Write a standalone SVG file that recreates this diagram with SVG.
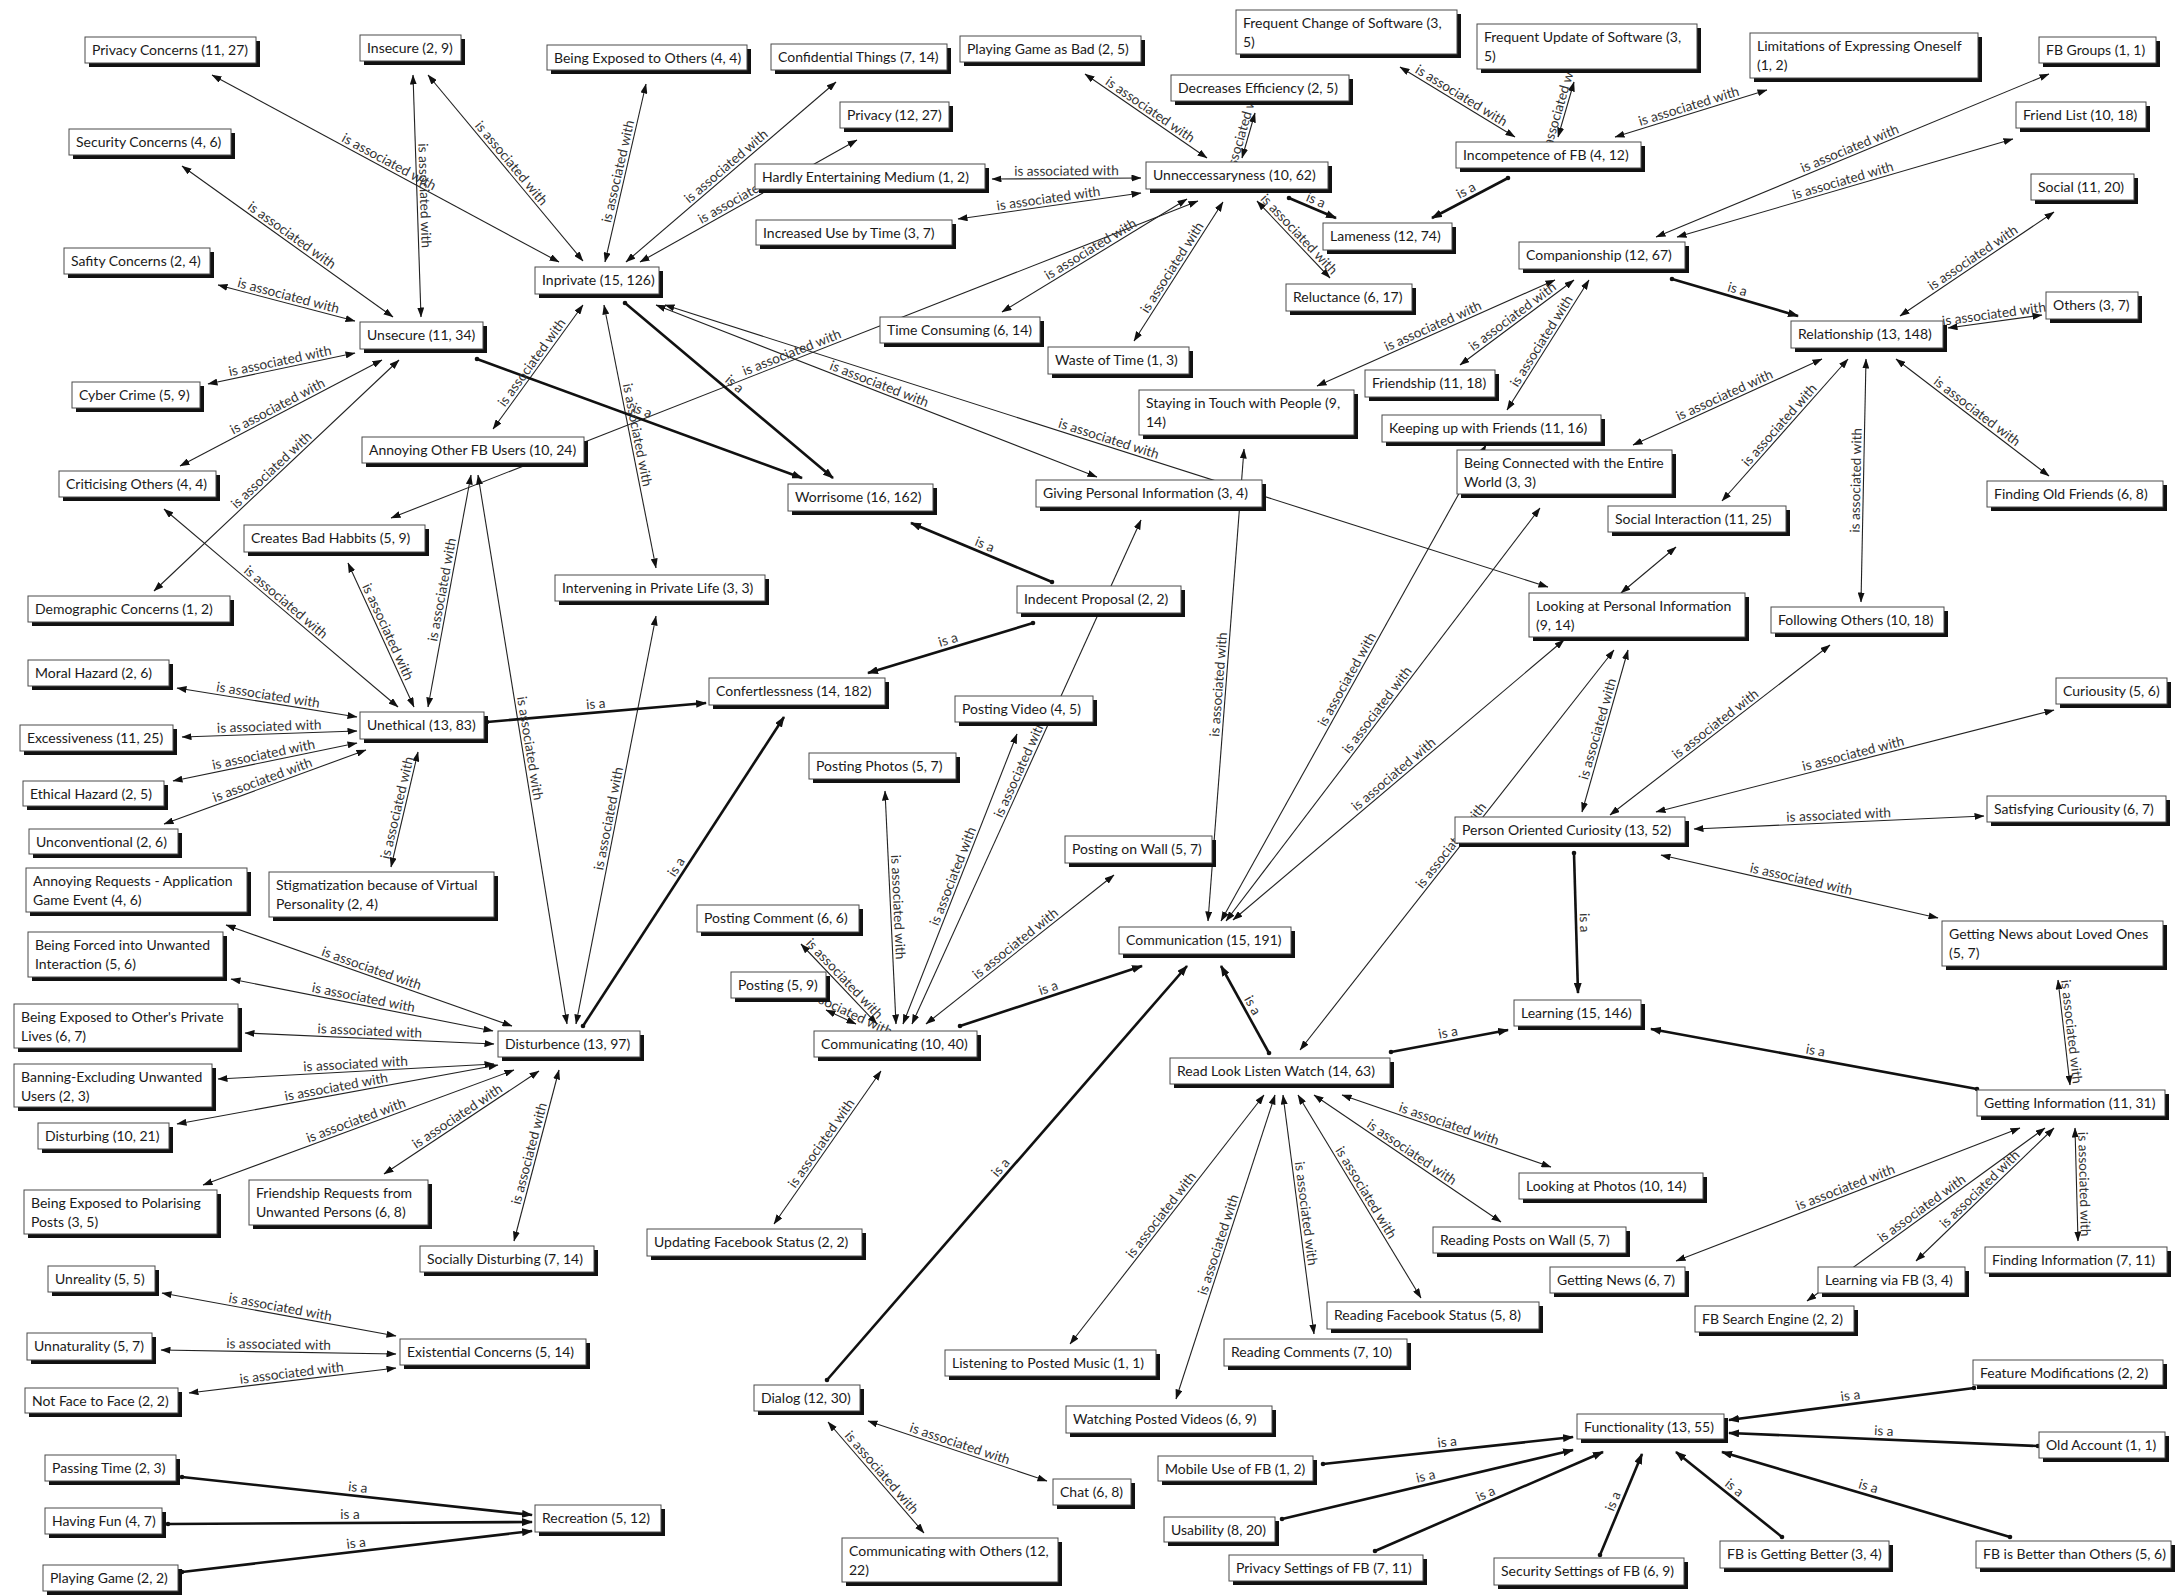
<svg xmlns="http://www.w3.org/2000/svg" width="2183" height="1596" viewBox="0 0 2183 1596">
<style>
.sh{fill:#111}
.bx{fill:#fff;stroke:#4a4a4a;stroke-width:1}
.nt{font-family:Lato,"Noto Sans",sans-serif;font-size:14px;fill:#1a1a1a}
.a{fill:none;stroke:#222;stroke-width:1.1;marker-start:url(#ar);marker-end:url(#ar)}
.iF{fill:none;stroke:#111;stroke-width:2.6;marker-start:url(#dt);marker-end:url(#art)}
.iR{fill:none;stroke:#111;stroke-width:2.6;marker-start:url(#art);marker-end:url(#dt)}
.lb{font-family:Lato,"Noto Sans",sans-serif;font-size:13.6px;fill:#333;text-anchor:middle}
</style>
<defs>
<marker id="ar" viewBox="0 0 10 7" refX="9.5" refY="3.5" markerWidth="10" markerHeight="7" markerUnits="userSpaceOnUse" orient="auto-start-reverse"><path d="M0,0 L10,3.5 L0,7 z" fill="#111"/></marker>
<marker id="art" viewBox="0 0 11 8" refX="10" refY="4" markerWidth="11" markerHeight="8" markerUnits="userSpaceOnUse" orient="auto-start-reverse"><path d="M0,0 L11,4 L0,8 z" fill="#111"/></marker>
<marker id="dt" viewBox="0 0 6 6" refX="3" refY="3" markerWidth="6" markerHeight="6" markerUnits="userSpaceOnUse"><circle cx="3" cy="3" r="2.3" fill="#111"/></marker>
<path id="t20" d="M1231,196 L1266,75"/>
<path id="t23" d="M1548,171 L1584,48"/>
<path id="t28" d="M1933,330 L2057,313"/>
<path id="t64" d="M790,993 L892,1041"/>
</defs>
<rect width="2183" height="1596" fill="#fff"/>
<g id="connectors">
<path id="a1" class="a" d="M212,75 L559,262"/>
<path id="a2" class="a" d="M413,75 L421,317"/>
<path id="a3" class="a" d="M428,75 L583,261"/>
<path id="a4" class="a" d="M182,166 L393,317"/>
<path id="a5" class="a" d="M218,285 L355,321"/>
<path id="a6" class="a" d="M208,384 L355,353"/>
<path id="a7" class="a" d="M180,466 L382,360"/>
<path id="a8" class="a" d="M154,591 L399,360"/>
<path id="a9" class="a" d="M164,509 L398,707"/>
<path id="a10" class="a" d="M493,429 L583,305"/>
<path id="a11" class="a" d="M605,262 L646,84"/>
<path id="a12" class="a" d="M626,262 L836,82"/>
<path id="a13" class="a" d="M640,262 L857,140"/>
<path id="a14" class="a" d="M992,179 L1141,178"/>
<path id="a15" class="a" d="M958,219 L1141,193"/>
<path id="a16" class="a" d="M1002,312 L1187,199"/>
<path id="a17" class="a" d="M391,518 L1198,201"/>
<path id="a18" class="a" d="M1134,341 L1223,202"/>
<path id="a19" class="a" d="M1085,74 L1207,158"/>
<path id="a20" class="a" d="M1242,158 L1255,113"/>
<path id="a21" class="a" d="M1257,201 L1330,278"/>
<path id="a22" class="a" d="M1400,67 L1515,137"/>
<path id="a23" class="a" d="M1558,137 L1574,82"/>
<path id="a24" class="a" d="M1615,137 L1767,90"/>
<path id="a25" class="a" d="M1656,237 L2049,74"/>
<path id="a26" class="a" d="M1677,237 L2013,139"/>
<path id="a27" class="a" d="M1900,316 L2054,212"/>
<path id="a28" class="a" d="M1948,328 L2042,315"/>
<path id="a29" class="a" d="M1896,359 L2049,476"/>
<path id="a30" class="a" d="M1633,445 L1822,359"/>
<path id="a31" class="a" d="M1722,501 L1848,359"/>
<path id="a32" class="a" d="M1861,602 L1866,359"/>
<path id="a33" class="a" d="M1317,386 L1555,280"/>
<path id="a34" class="a" d="M1460,365 L1574,280"/>
<path id="a35" class="a" d="M1507,410 L1589,280"/>
<path id="a36" class="a" d="M1208,921 L1244,449"/>
<path id="a37" class="a" d="M912,1024 L1141,520"/>
<path id="a38" class="a" d="M903,1024 L1017,734"/>
<path id="a39" class="a" d="M656,305 L1097,477"/>
<path id="a40" class="a" d="M665,305 L1548,587"/>
<path id="a41" class="a" d="M604,305 L656,568"/>
<path id="a42" class="a" d="M576,1024 L656,616"/>
<path id="a43" class="a" d="M478,475 L567,1024"/>
<path id="a44" class="a" d="M428,707 L471,475"/>
<path id="a45" class="a" d="M348,563 L414,707"/>
<path id="a46" class="a" d="M177,688 L357,717"/>
<path id="a47" class="a" d="M182,737 L357,731"/>
<path id="a48" class="a" d="M173,781 L357,743"/>
<path id="a49" class="a" d="M164,824 L366,750"/>
<path id="a50" class="a" d="M391,867 L418,752"/>
<path id="a51" class="a" d="M226,925 L512,1026"/>
<path id="a52" class="a" d="M231,979 L493,1031"/>
<path id="a53" class="a" d="M245,1033 L494,1044"/>
<path id="a54" class="a" d="M218,1079 L494,1064"/>
<path id="a55" class="a" d="M177,1124 L498,1065"/>
<path id="a56" class="a" d="M203,1185 L514,1070"/>
<path id="a57" class="a" d="M384,1174 L539,1071"/>
<path id="a58" class="a" d="M514,1241 L559,1070"/>
<path id="a59" class="a" d="M162,1293 L396,1336"/>
<path id="a60" class="a" d="M161,1350 L396,1354"/>
<path id="a61" class="a" d="M189,1393 L396,1368"/>
<path id="a62" class="a" d="M885,791 L896,1024"/>
<path id="a63" class="a" d="M801,944 L877,1024"/>
<path id="a64" class="a" d="M826,1010 L856,1024"/>
<path id="a65" class="a" d="M926,1024 L1114,875"/>
<path id="a66" class="a" d="M774,1224 L881,1071"/>
<path id="a67" class="a" d="M1300,1050 L1614,650"/>
<path id="a68" class="a" d="M1582,812 L1628,650"/>
<path id="a69" class="a" d="M1233,920 L1564,640"/>
<path id="a70" class="a" d="M1226,921 L1540,508"/>
<path id="a71" class="a" d="M1221,921 L1486,445"/>
<path id="a72" class="a" d="M1621,593 L1676,547"/>
<path id="a73" class="a" d="M1610,815 L1830,645"/>
<path id="a74" class="a" d="M1656,812 L2054,710"/>
<path id="a75" class="a" d="M1694,829 L1984,816"/>
<path id="a76" class="a" d="M1661,855 L1938,918"/>
<path id="a77" class="a" d="M2058,980 L2070,1085"/>
<path id="a78" class="a" d="M1676,1261 L2020,1128"/>
<path id="a79" class="a" d="M1807,1301 L2045,1128"/>
<path id="a80" class="a" d="M1916,1261 L2054,1128"/>
<path id="a81" class="a" d="M2075,1128 L2078,1241"/>
<path id="a82" class="a" d="M1342,1095 L1551,1167"/>
<path id="a83" class="a" d="M1314,1095 L1501,1222"/>
<path id="a84" class="a" d="M1298,1095 L1421,1298"/>
<path id="a85" class="a" d="M1283,1095 L1314,1334"/>
<path id="a86" class="a" d="M1176,1399 L1275,1095"/>
<path id="a87" class="a" d="M1070,1344 L1264,1095"/>
<path id="a88" class="a" d="M868,1421 L1047,1481"/>
<path id="a89" class="a" d="M828,1422 L924,1533"/>
<path id="i1" class="iF" d="M477,359 L802,478"/>
<path id="i2" class="iF" d="M625,303 L833,478"/>
<path id="i3" class="iR" d="M911,523 L1052,582"/>
<path id="i4" class="iF" d="M1289,198 L1336,218"/>
<path id="i5" class="iR" d="M1432,218 L1508,178"/>
<path id="i6" class="iF" d="M1672,279 L1798,316"/>
<path id="i7" class="iF" d="M487,722 L706,703"/>
<path id="i8" class="iR" d="M868,673 L1033,623"/>
<path id="i9" class="iF" d="M583,1026 L784,717"/>
<path id="i10" class="iF" d="M960,1026 L1142,966"/>
<path id="i11" class="iF" d="M827,1380 L1187,966"/>
<path id="i12" class="iR" d="M1221,966 L1269,1053"/>
<path id="i13" class="iF" d="M1391,1052 L1508,1030"/>
<path id="i14" class="iF" d="M1574,853 L1578,993"/>
<path id="i15" class="iR" d="M1651,1029 L1977,1089"/>
<path id="i16" class="iF" d="M182,1477 L532,1515"/>
<path id="i17" class="iF" d="M168,1524 L532,1522"/>
<path id="i18" class="iF" d="M182,1572 L532,1531"/>
<path id="i19" class="iF" d="M1323,1464 L1573,1437"/>
<path id="i20" class="iF" d="M1282,1519 L1573,1450"/>
<path id="i21" class="iF" d="M1375,1551 L1603,1452"/>
<path id="i22" class="iF" d="M1600,1555 L1642,1454"/>
<path id="i23" class="iR" d="M1729,1420 L1974,1388"/>
<path id="i24" class="iR" d="M1729,1433 L2038,1446"/>
<path id="i25" class="iR" d="M1676,1452 L1782,1537"/>
<path id="i26" class="iR" d="M1722,1452 L2010,1537"/>
</g>
<g id="labels">
<text class="lb"><textPath href="#a1" startOffset="50%"><tspan dy="-3">is associated with</tspan></textPath></text>
<text class="lb"><textPath href="#a2" startOffset="50%"><tspan dy="-3">is associated with</tspan></textPath></text>
<text class="lb"><textPath href="#a3" startOffset="50%"><tspan dy="-3">is associated with</tspan></textPath></text>
<text class="lb"><textPath href="#a4" startOffset="50%"><tspan dy="-3">is associated with</tspan></textPath></text>
<text class="lb"><textPath href="#a5" startOffset="50%"><tspan dy="-3">is associated with</tspan></textPath></text>
<text class="lb"><textPath href="#a6" startOffset="50%"><tspan dy="-3">is associated with</tspan></textPath></text>
<text class="lb"><textPath href="#a7" startOffset="50%"><tspan dy="-3">is associated with</tspan></textPath></text>
<text class="lb"><textPath href="#a8" startOffset="50%"><tspan dy="-3">is associated with</tspan></textPath></text>
<text class="lb"><textPath href="#a9" startOffset="50%"><tspan dy="-3">is associated with</tspan></textPath></text>
<text class="lb"><textPath href="#a10" startOffset="50%"><tspan dy="-3">is associated with</tspan></textPath></text>
<text class="lb"><textPath href="#a11" startOffset="50%"><tspan dy="-3">is associated with</tspan></textPath></text>
<text class="lb"><textPath href="#a12" startOffset="50%"><tspan dy="-3">is associated with</tspan></textPath></text>
<text class="lb"><textPath href="#a13" startOffset="50%"><tspan dy="-3">is associated with</tspan></textPath></text>
<text class="lb"><textPath href="#a14" startOffset="50%"><tspan dy="-3">is associated with</tspan></textPath></text>
<text class="lb"><textPath href="#a15" startOffset="50%"><tspan dy="-3">is associated with</tspan></textPath></text>
<text class="lb"><textPath href="#a16" startOffset="50%"><tspan dy="-3">is associated with</tspan></textPath></text>
<text class="lb"><textPath href="#a17" startOffset="50%"><tspan dy="-3">is associated with</tspan></textPath></text>
<text class="lb"><textPath href="#a18" startOffset="50%"><tspan dy="-3">is associated with</tspan></textPath></text>
<text class="lb"><textPath href="#a19" startOffset="50%"><tspan dy="-3">is associated with</tspan></textPath></text>
<text class="lb"><textPath href="#t20" startOffset="50%"><tspan dy="-3">is associated with</tspan></textPath></text>
<text class="lb"><textPath href="#a21" startOffset="50%"><tspan dy="-3">is associated with</tspan></textPath></text>
<text class="lb"><textPath href="#a22" startOffset="50%"><tspan dy="-3">is associated with</tspan></textPath></text>
<text class="lb"><textPath href="#t23" startOffset="50%"><tspan dy="-3">is associated with</tspan></textPath></text>
<text class="lb"><textPath href="#a24" startOffset="50%"><tspan dy="-3">is associated with</tspan></textPath></text>
<text class="lb"><textPath href="#a25" startOffset="50%"><tspan dy="-3">is associated with</tspan></textPath></text>
<text class="lb"><textPath href="#a26" startOffset="50%"><tspan dy="-3">is associated with</tspan></textPath></text>
<text class="lb"><textPath href="#a27" startOffset="50%"><tspan dy="-3">is associated with</tspan></textPath></text>
<text class="lb"><textPath href="#t28" startOffset="50%"><tspan dy="-3">is associated with</tspan></textPath></text>
<text class="lb"><textPath href="#a29" startOffset="50%"><tspan dy="-3">is associated with</tspan></textPath></text>
<text class="lb"><textPath href="#a30" startOffset="50%"><tspan dy="-3">is associated with</tspan></textPath></text>
<text class="lb"><textPath href="#a31" startOffset="50%"><tspan dy="-3">is associated with</tspan></textPath></text>
<text class="lb"><textPath href="#a32" startOffset="50%"><tspan dy="-3">is associated with</tspan></textPath></text>
<text class="lb"><textPath href="#a33" startOffset="50%"><tspan dy="-3">is associated with</tspan></textPath></text>
<text class="lb"><textPath href="#a34" startOffset="50%"><tspan dy="-3">is associated with</tspan></textPath></text>
<text class="lb"><textPath href="#a35" startOffset="50%"><tspan dy="-3">is associated with</tspan></textPath></text>
<text class="lb"><textPath href="#a36" startOffset="50%"><tspan dy="-3">is associated with</tspan></textPath></text>
<text class="lb"><textPath href="#a37" startOffset="50%"><tspan dy="-3">is associated with</tspan></textPath></text>
<text class="lb"><textPath href="#a38" startOffset="50%"><tspan dy="-3">is associated with</tspan></textPath></text>
<text class="lb"><textPath href="#a39" startOffset="50%"><tspan dy="-3">is associated with</tspan></textPath></text>
<text class="lb"><textPath href="#a40" startOffset="50%"><tspan dy="-3">is associated with</tspan></textPath></text>
<text class="lb"><textPath href="#a41" startOffset="50%"><tspan dy="-3">is associated with</tspan></textPath></text>
<text class="lb"><textPath href="#a42" startOffset="50%"><tspan dy="-3">is associated with</tspan></textPath></text>
<text class="lb"><textPath href="#a43" startOffset="50%"><tspan dy="-3">is associated with</tspan></textPath></text>
<text class="lb"><textPath href="#a44" startOffset="50%"><tspan dy="-3">is associated with</tspan></textPath></text>
<text class="lb"><textPath href="#a45" startOffset="50%"><tspan dy="-3">is associated with</tspan></textPath></text>
<text class="lb"><textPath href="#a46" startOffset="50%"><tspan dy="-3">is associated with</tspan></textPath></text>
<text class="lb"><textPath href="#a47" startOffset="50%"><tspan dy="-3">is associated with</tspan></textPath></text>
<text class="lb"><textPath href="#a48" startOffset="50%"><tspan dy="-3">is associated with</tspan></textPath></text>
<text class="lb"><textPath href="#a49" startOffset="50%"><tspan dy="-3">is associated with</tspan></textPath></text>
<text class="lb"><textPath href="#a50" startOffset="50%"><tspan dy="-3">is associated with</tspan></textPath></text>
<text class="lb"><textPath href="#a51" startOffset="50%"><tspan dy="-3">is associated with</tspan></textPath></text>
<text class="lb"><textPath href="#a52" startOffset="50%"><tspan dy="-3">is associated with</tspan></textPath></text>
<text class="lb"><textPath href="#a53" startOffset="50%"><tspan dy="-3">is associated with</tspan></textPath></text>
<text class="lb"><textPath href="#a54" startOffset="50%"><tspan dy="-3">is associated with</tspan></textPath></text>
<text class="lb"><textPath href="#a55" startOffset="50%"><tspan dy="-3">is associated with</tspan></textPath></text>
<text class="lb"><textPath href="#a56" startOffset="50%"><tspan dy="-3">is associated with</tspan></textPath></text>
<text class="lb"><textPath href="#a57" startOffset="50%"><tspan dy="-3">is associated with</tspan></textPath></text>
<text class="lb"><textPath href="#a58" startOffset="50%"><tspan dy="-3">is associated with</tspan></textPath></text>
<text class="lb"><textPath href="#a59" startOffset="50%"><tspan dy="-3">is associated with</tspan></textPath></text>
<text class="lb"><textPath href="#a60" startOffset="50%"><tspan dy="-3">is associated with</tspan></textPath></text>
<text class="lb"><textPath href="#a61" startOffset="50%"><tspan dy="-3">is associated with</tspan></textPath></text>
<text class="lb"><textPath href="#a62" startOffset="50%"><tspan dy="-3">is associated with</tspan></textPath></text>
<text class="lb"><textPath href="#a63" startOffset="50%"><tspan dy="-3">is associated with</tspan></textPath></text>
<text class="lb"><textPath href="#t64" startOffset="50%"><tspan dy="-3">is associated with</tspan></textPath></text>
<text class="lb"><textPath href="#a65" startOffset="50%"><tspan dy="-3">is associated with</tspan></textPath></text>
<text class="lb"><textPath href="#a66" startOffset="50%"><tspan dy="-3">is associated with</tspan></textPath></text>
<text class="lb"><textPath href="#a67" startOffset="50%"><tspan dy="-3">is associated with</tspan></textPath></text>
<text class="lb"><textPath href="#a68" startOffset="50%"><tspan dy="-3">is associated with</tspan></textPath></text>
<text class="lb"><textPath href="#a69" startOffset="50%"><tspan dy="-3">is associated with</tspan></textPath></text>
<text class="lb"><textPath href="#a70" startOffset="50%"><tspan dy="-3">is associated with</tspan></textPath></text>
<text class="lb"><textPath href="#a71" startOffset="50%"><tspan dy="-3">is associated with</tspan></textPath></text>
<text class="lb"><textPath href="#a73" startOffset="50%"><tspan dy="-3">is associated with</tspan></textPath></text>
<text class="lb"><textPath href="#a74" startOffset="50%"><tspan dy="-3">is associated with</tspan></textPath></text>
<text class="lb"><textPath href="#a75" startOffset="50%"><tspan dy="-3">is associated with</tspan></textPath></text>
<text class="lb"><textPath href="#a76" startOffset="50%"><tspan dy="-3">is associated with</tspan></textPath></text>
<text class="lb"><textPath href="#a77" startOffset="50%"><tspan dy="-3">is associated with</tspan></textPath></text>
<text class="lb"><textPath href="#a78" startOffset="50%"><tspan dy="-3">is associated with</tspan></textPath></text>
<text class="lb"><textPath href="#a79" startOffset="50%"><tspan dy="-3">is associated with</tspan></textPath></text>
<text class="lb"><textPath href="#a80" startOffset="50%"><tspan dy="-3">is associated with</tspan></textPath></text>
<text class="lb"><textPath href="#a81" startOffset="50%"><tspan dy="-3">is associated with</tspan></textPath></text>
<text class="lb"><textPath href="#a82" startOffset="50%"><tspan dy="-3">is associated with</tspan></textPath></text>
<text class="lb"><textPath href="#a83" startOffset="50%"><tspan dy="-3">is associated with</tspan></textPath></text>
<text class="lb"><textPath href="#a84" startOffset="50%"><tspan dy="-3">is associated with</tspan></textPath></text>
<text class="lb"><textPath href="#a85" startOffset="50%"><tspan dy="-3">is associated with</tspan></textPath></text>
<text class="lb"><textPath href="#a86" startOffset="50%"><tspan dy="-3">is associated with</tspan></textPath></text>
<text class="lb"><textPath href="#a87" startOffset="50%"><tspan dy="-3">is associated with</tspan></textPath></text>
<text class="lb"><textPath href="#a88" startOffset="50%"><tspan dy="-3">is associated with</tspan></textPath></text>
<text class="lb"><textPath href="#a89" startOffset="50%"><tspan dy="-3">is associated with</tspan></textPath></text>
<text class="lb"><textPath href="#i1" startOffset="50%"><tspan dy="-4">is a</tspan></textPath></text>
<text class="lb"><textPath href="#i2" startOffset="50%"><tspan dy="-4">is a</tspan></textPath></text>
<text class="lb"><textPath href="#i3" startOffset="50%"><tspan dy="-4">is a</tspan></textPath></text>
<text class="lb"><textPath href="#i4" startOffset="50%"><tspan dy="-4">is a</tspan></textPath></text>
<text class="lb"><textPath href="#i5" startOffset="50%"><tspan dy="-4">is a</tspan></textPath></text>
<text class="lb"><textPath href="#i6" startOffset="50%"><tspan dy="-4">is a</tspan></textPath></text>
<text class="lb"><textPath href="#i7" startOffset="50%"><tspan dy="-4">is a</tspan></textPath></text>
<text class="lb"><textPath href="#i8" startOffset="50%"><tspan dy="-4">is a</tspan></textPath></text>
<text class="lb"><textPath href="#i9" startOffset="50%"><tspan dy="-4">is a</tspan></textPath></text>
<text class="lb"><textPath href="#i10" startOffset="50%"><tspan dy="-4">is a</tspan></textPath></text>
<text class="lb"><textPath href="#i11" startOffset="50%"><tspan dy="-4">is a</tspan></textPath></text>
<text class="lb"><textPath href="#i12" startOffset="50%"><tspan dy="-4">is a</tspan></textPath></text>
<text class="lb"><textPath href="#i13" startOffset="50%"><tspan dy="-4">is a</tspan></textPath></text>
<text class="lb"><textPath href="#i14" startOffset="50%"><tspan dy="-4">is a</tspan></textPath></text>
<text class="lb"><textPath href="#i15" startOffset="50%"><tspan dy="-4">is a</tspan></textPath></text>
<text class="lb"><textPath href="#i16" startOffset="50%"><tspan dy="-4">is a</tspan></textPath></text>
<text class="lb"><textPath href="#i17" startOffset="50%"><tspan dy="-4">is a</tspan></textPath></text>
<text class="lb"><textPath href="#i18" startOffset="50%"><tspan dy="-4">is a</tspan></textPath></text>
<text class="lb"><textPath href="#i19" startOffset="50%"><tspan dy="-4">is a</tspan></textPath></text>
<text class="lb"><textPath href="#i20" startOffset="50%"><tspan dy="-4">is a</tspan></textPath></text>
<text class="lb"><textPath href="#i21" startOffset="50%"><tspan dy="-4">is a</tspan></textPath></text>
<text class="lb"><textPath href="#i22" startOffset="50%"><tspan dy="-4">is a</tspan></textPath></text>
<text class="lb"><textPath href="#i23" startOffset="50%"><tspan dy="-4">is a</tspan></textPath></text>
<text class="lb"><textPath href="#i24" startOffset="50%"><tspan dy="-4">is a</tspan></textPath></text>
<text class="lb"><textPath href="#i25" startOffset="50%"><tspan dy="-4">is a</tspan></textPath></text>
<text class="lb"><textPath href="#i26" startOffset="50%"><tspan dy="-4">is a</tspan></textPath></text>
</g>
<g id="nodes">
<g id="n-privacy-concerns" transform="translate(85,37)"><rect class="sh" x="4" y="4" width="171" height="26"/><rect class="bx" width="171" height="26"/><text class="nt" x="7" y="18">Privacy Concerns (11, 27)</text></g>
<g id="n-insecure" transform="translate(360,35)"><rect class="sh" x="4" y="4" width="101" height="26"/><rect class="bx" width="101" height="26"/><text class="nt" x="7" y="18">Insecure (2, 9)</text></g>
<g id="n-security-concerns" transform="translate(69,129)"><rect class="sh" x="4" y="4" width="162" height="26"/><rect class="bx" width="162" height="26"/><text class="nt" x="7" y="18">Security Concerns (4, 6)</text></g>
<g id="n-safity-concerns" transform="translate(64,248)"><rect class="sh" x="4" y="4" width="146" height="26"/><rect class="bx" width="146" height="26"/><text class="nt" x="7" y="18">Safity Concerns (2, 4)</text></g>
<g id="n-unsecure" transform="translate(360,322)"><rect class="sh" x="4" y="4" width="123" height="27"/><rect class="bx" width="123" height="27"/><text class="nt" x="7" y="18">Unsecure (11, 34)</text></g>
<g id="n-cyber-crime" transform="translate(72,382)"><rect class="sh" x="4" y="4" width="128" height="26"/><rect class="bx" width="128" height="26"/><text class="nt" x="7" y="18">Cyber Crime (5, 9)</text></g>
<g id="n-criticising-others" transform="translate(59,471)"><rect class="sh" x="4" y="4" width="157" height="26"/><rect class="bx" width="157" height="26"/><text class="nt" x="7" y="18">Criticising Others (4, 4)</text></g>
<g id="n-annoying-other-fb-users" transform="translate(362,437)"><rect class="sh" x="4" y="4" width="222" height="26"/><rect class="bx" width="222" height="26"/><text class="nt" x="7" y="18">Annoying Other FB Users (10, 24)</text></g>
<g id="n-inprivate" transform="translate(535,267)"><rect class="sh" x="4" y="4" width="124" height="27"/><rect class="bx" width="124" height="27"/><text class="nt" x="7" y="18">Inprivate (15, 126)</text></g>
<g id="n-being-exposed-to-others" transform="translate(547,45)"><rect class="sh" x="4" y="4" width="200" height="25"/><rect class="bx" width="200" height="25"/><text class="nt" x="7" y="18">Being Exposed to Others (4, 4)</text></g>
<g id="n-confidential-things" transform="translate(771,44)"><rect class="sh" x="4" y="4" width="176" height="26"/><rect class="bx" width="176" height="26"/><text class="nt" x="7" y="18">Confidential Things (7, 14)</text></g>
<g id="n-playing-game-as-bad" transform="translate(960,36)"><rect class="sh" x="4" y="4" width="181" height="26"/><rect class="bx" width="181" height="26"/><text class="nt" x="7" y="18">Playing Game as Bad (2, 5)</text></g>
<g id="n-privacy" transform="translate(840,102)"><rect class="sh" x="4" y="4" width="109" height="26"/><rect class="bx" width="109" height="26"/><text class="nt" x="7" y="18">Privacy (12, 27)</text></g>
<g id="n-hardly-entertaining-medium" transform="translate(755,164)"><rect class="sh" x="4" y="4" width="230" height="25"/><rect class="bx" width="230" height="25"/><text class="nt" x="7" y="18">Hardly Entertaining Medium (1, 2)</text></g>
<g id="n-increased-use-by-time" transform="translate(756,220)"><rect class="sh" x="4" y="4" width="196" height="25"/><rect class="bx" width="196" height="25"/><text class="nt" x="7" y="18">Increased Use by Time (3, 7)</text></g>
<g id="n-time-consuming" transform="translate(880,317)"><rect class="sh" x="4" y="4" width="160" height="26"/><rect class="bx" width="160" height="26"/><text class="nt" x="7" y="18">Time Consuming (6, 14)</text></g>
<g id="n-worrisome" transform="translate(788,484)"><rect class="sh" x="4" y="4" width="145" height="27"/><rect class="bx" width="145" height="27"/><text class="nt" x="7" y="18">Worrisome (16, 162)</text></g>
<g id="n-giving-personal-information" transform="translate(1036,480)"><rect class="sh" x="4" y="4" width="226" height="27"/><rect class="bx" width="226" height="27"/><text class="nt" x="7" y="18">Giving Personal Information (3, 4)</text></g>
<g id="n-frequent-change-of-software" transform="translate(1236,10)"><rect class="sh" x="4" y="4" width="221" height="44"/><rect class="bx" width="221" height="44"/><text class="nt" x="7" y="18">Frequent Change of Software (3,<tspan x="7" dy="19">5)</tspan></text></g>
<g id="n-frequent-update-of-software" transform="translate(1477,24)"><rect class="sh" x="4" y="4" width="220" height="45"/><rect class="bx" width="220" height="45"/><text class="nt" x="7" y="18">Frequent Update of Software (3,<tspan x="7" dy="19">5)</tspan></text></g>
<g id="n-decreases-efficiency" transform="translate(1171,75)"><rect class="sh" x="4" y="4" width="178" height="26"/><rect class="bx" width="178" height="26"/><text class="nt" x="7" y="18">Decreases Efficiency (2, 5)</text></g>
<g id="n-unneccessaryness" transform="translate(1146,162)"><rect class="sh" x="4" y="4" width="182" height="27"/><rect class="bx" width="182" height="27"/><text class="nt" x="7" y="18">Unneccessaryness (10, 62)</text></g>
<g id="n-incompetence-of-fb" transform="translate(1456,142)"><rect class="sh" x="4" y="4" width="185" height="26"/><rect class="bx" width="185" height="26"/><text class="nt" x="7" y="18">Incompetence of FB (4, 12)</text></g>
<g id="n-lameness" transform="translate(1323,223)"><rect class="sh" x="4" y="4" width="129" height="27"/><rect class="bx" width="129" height="27"/><text class="nt" x="7" y="18">Lameness (12, 74)</text></g>
<g id="n-reluctance" transform="translate(1286,284)"><rect class="sh" x="4" y="4" width="126" height="27"/><rect class="bx" width="126" height="27"/><text class="nt" x="7" y="18">Reluctance (6, 17)</text></g>
<g id="n-companionship" transform="translate(1519,242)"><rect class="sh" x="4" y="4" width="166" height="27"/><rect class="bx" width="166" height="27"/><text class="nt" x="7" y="18">Companionship (12, 67)</text></g>
<g id="n-waste-of-time" transform="translate(1048,347)"><rect class="sh" x="4" y="4" width="141" height="27"/><rect class="bx" width="141" height="27"/><text class="nt" x="7" y="18">Waste of Time (1, 3)</text></g>
<g id="n-friendship" transform="translate(1365,370)"><rect class="sh" x="4" y="4" width="130" height="27"/><rect class="bx" width="130" height="27"/><text class="nt" x="7" y="18">Friendship (11, 18)</text></g>
<g id="n-staying-in-touch" transform="translate(1139,390)"><rect class="sh" x="4" y="4" width="215" height="45"/><rect class="bx" width="215" height="45"/><text class="nt" x="7" y="18">Staying in Touch with People (9,<tspan x="7" dy="19">14)</tspan></text></g>
<g id="n-keeping-up-with-friends" transform="translate(1382,415)"><rect class="sh" x="4" y="4" width="219" height="27"/><rect class="bx" width="219" height="27"/><text class="nt" x="7" y="18">Keeping up with Friends (11, 16)</text></g>
<g id="n-being-connected" transform="translate(1457,450)"><rect class="sh" x="4" y="4" width="215" height="44"/><rect class="bx" width="215" height="44"/><text class="nt" x="7" y="18">Being Connected with the Entire<tspan x="7" dy="19">World (3, 3)</tspan></text></g>
<g id="n-limitations" transform="translate(1750,33)"><rect class="sh" x="4" y="4" width="228" height="45"/><rect class="bx" width="228" height="45"/><text class="nt" x="7" y="18">Limitations of Expressing Oneself<tspan x="7" dy="19">(1, 2)</tspan></text></g>
<g id="n-fb-groups" transform="translate(2039,37)"><rect class="sh" x="4" y="4" width="117" height="26"/><rect class="bx" width="117" height="26"/><text class="nt" x="7" y="18">FB Groups (1, 1)</text></g>
<g id="n-friend-list" transform="translate(2016,102)"><rect class="sh" x="4" y="4" width="130" height="26"/><rect class="bx" width="130" height="26"/><text class="nt" x="7" y="18">Friend List (10, 18)</text></g>
<g id="n-social" transform="translate(2031,174)"><rect class="sh" x="4" y="4" width="103" height="26"/><rect class="bx" width="103" height="26"/><text class="nt" x="7" y="18">Social (11, 20)</text></g>
<g id="n-relationship" transform="translate(1791,321)"><rect class="sh" x="4" y="4" width="152" height="27"/><rect class="bx" width="152" height="27"/><text class="nt" x="7" y="18">Relationship (13, 148)</text></g>
<g id="n-others" transform="translate(2046,292)"><rect class="sh" x="4" y="4" width="92" height="27"/><rect class="bx" width="92" height="27"/><text class="nt" x="7" y="18">Others (3, 7)</text></g>
<g id="n-finding-old-friends" transform="translate(1987,481)"><rect class="sh" x="4" y="4" width="176" height="26"/><rect class="bx" width="176" height="26"/><text class="nt" x="7" y="18">Finding Old Friends (6, 8)</text></g>
<g id="n-social-interaction" transform="translate(1608,506)"><rect class="sh" x="4" y="4" width="178" height="26"/><rect class="bx" width="178" height="26"/><text class="nt" x="7" y="18">Social Interaction (11, 25)</text></g>
<g id="n-creates-bad-habbits" transform="translate(244,525)"><rect class="sh" x="4" y="4" width="181" height="27"/><rect class="bx" width="181" height="27"/><text class="nt" x="7" y="18">Creates Bad Habbits (5, 9)</text></g>
<g id="n-demographic-concerns" transform="translate(28,596)"><rect class="sh" x="4" y="4" width="202" height="26"/><rect class="bx" width="202" height="26"/><text class="nt" x="7" y="18">Demographic Concerns (1, 2)</text></g>
<g id="n-moral-hazard" transform="translate(28,660)"><rect class="sh" x="4" y="4" width="141" height="26"/><rect class="bx" width="141" height="26"/><text class="nt" x="7" y="18">Moral Hazard (2, 6)</text></g>
<g id="n-excessiveness" transform="translate(20,725)"><rect class="sh" x="4" y="4" width="153" height="26"/><rect class="bx" width="153" height="26"/><text class="nt" x="7" y="18">Excessiveness (11, 25)</text></g>
<g id="n-unethical" transform="translate(360,712)"><rect class="sh" x="4" y="4" width="124" height="27"/><rect class="bx" width="124" height="27"/><text class="nt" x="7" y="18">Unethical (13, 83)</text></g>
<g id="n-ethical-hazard" transform="translate(23,781)"><rect class="sh" x="4" y="4" width="141" height="25"/><rect class="bx" width="141" height="25"/><text class="nt" x="7" y="18">Ethical Hazard (2, 5)</text></g>
<g id="n-unconventional" transform="translate(29,829)"><rect class="sh" x="4" y="4" width="149" height="25"/><rect class="bx" width="149" height="25"/><text class="nt" x="7" y="18">Unconventional (2, 6)</text></g>
<g id="n-annoying-requests" transform="translate(26,868)"><rect class="sh" x="4" y="4" width="221" height="44"/><rect class="bx" width="221" height="44"/><text class="nt" x="7" y="18">Annoying Requests - Application<tspan x="7" dy="19">Game Event (4, 6)</tspan></text></g>
<g id="n-stigmatization" transform="translate(269,872)"><rect class="sh" x="4" y="4" width="225" height="45"/><rect class="bx" width="225" height="45"/><text class="nt" x="7" y="18">Stigmatization because of Virtual<tspan x="7" dy="19">Personality (2, 4)</tspan></text></g>
<g id="n-being-forced" transform="translate(28,932)"><rect class="sh" x="4" y="4" width="195" height="45"/><rect class="bx" width="195" height="45"/><text class="nt" x="7" y="18">Being Forced into Unwanted<tspan x="7" dy="19">Interaction (5, 6)</tspan></text></g>
<g id="n-being-exposed-private-lives" transform="translate(14,1004)"><rect class="sh" x="4" y="4" width="224" height="44"/><rect class="bx" width="224" height="44"/><text class="nt" x="7" y="18">Being Exposed to Other's Private<tspan x="7" dy="19">Lives (6, 7)</tspan></text></g>
<g id="n-disturbence" transform="translate(498,1031)"><rect class="sh" x="4" y="4" width="142" height="26"/><rect class="bx" width="142" height="26"/><text class="nt" x="7" y="18">Disturbence (13, 97)</text></g>
<g id="n-intervening" transform="translate(555,575)"><rect class="sh" x="4" y="4" width="210" height="26"/><rect class="bx" width="210" height="26"/><text class="nt" x="7" y="18">Intervening in Private Life (3, 3)</text></g>
<g id="n-indecent-proposal" transform="translate(1017,586)"><rect class="sh" x="4" y="4" width="164" height="27"/><rect class="bx" width="164" height="27"/><text class="nt" x="7" y="18">Indecent Proposal (2, 2)</text></g>
<g id="n-confertlessness" transform="translate(709,678)"><rect class="sh" x="4" y="4" width="176" height="27"/><rect class="bx" width="176" height="27"/><text class="nt" x="7" y="18">Confertlessness (14, 182)</text></g>
<g id="n-posting-video" transform="translate(955,696)"><rect class="sh" x="4" y="4" width="138" height="26"/><rect class="bx" width="138" height="26"/><text class="nt" x="7" y="18">Posting Video (4, 5)</text></g>
<g id="n-posting-photos" transform="translate(809,753)"><rect class="sh" x="4" y="4" width="147" height="26"/><rect class="bx" width="147" height="26"/><text class="nt" x="7" y="18">Posting Photos (5, 7)</text></g>
<g id="n-posting-comment" transform="translate(697,905)"><rect class="sh" x="4" y="4" width="162" height="27"/><rect class="bx" width="162" height="27"/><text class="nt" x="7" y="18">Posting Comment (6, 6)</text></g>
<g id="n-posting" transform="translate(731,972)"><rect class="sh" x="4" y="4" width="95" height="26"/><rect class="bx" width="95" height="26"/><text class="nt" x="7" y="18">Posting (5, 9)</text></g>
<g id="n-communicating" transform="translate(814,1031)"><rect class="sh" x="4" y="4" width="163" height="26"/><rect class="bx" width="163" height="26"/><text class="nt" x="7" y="18">Communicating (10, 40)</text></g>
<g id="n-posting-on-wall" transform="translate(1065,836)"><rect class="sh" x="4" y="4" width="147" height="27"/><rect class="bx" width="147" height="27"/><text class="nt" x="7" y="18">Posting on Wall (5, 7)</text></g>
<g id="n-communication" transform="translate(1119,927)"><rect class="sh" x="4" y="4" width="172" height="27"/><rect class="bx" width="172" height="27"/><text class="nt" x="7" y="18">Communication (15, 191)</text></g>
<g id="n-looking-personal" transform="translate(1529,593)"><rect class="sh" x="4" y="4" width="216" height="44"/><rect class="bx" width="216" height="44"/><text class="nt" x="7" y="18">Looking at Personal Information<tspan x="7" dy="19">(9, 14)</tspan></text></g>
<g id="n-person-oriented-curiosity" transform="translate(1455,817)"><rect class="sh" x="4" y="4" width="230" height="26"/><rect class="bx" width="230" height="26"/><text class="nt" x="7" y="18">Person Oriented Curiosity (13, 52)</text></g>
<g id="n-learning" transform="translate(1514,1000)"><rect class="sh" x="4" y="4" width="127" height="26"/><rect class="bx" width="127" height="26"/><text class="nt" x="7" y="18">Learning (15, 146)</text></g>
<g id="n-read-look-listen-watch" transform="translate(1170,1058)"><rect class="sh" x="4" y="4" width="220" height="26"/><rect class="bx" width="220" height="26"/><text class="nt" x="7" y="18">Read Look Listen Watch (14, 63)</text></g>
<g id="n-following-others" transform="translate(1771,607)"><rect class="sh" x="4" y="4" width="173" height="26"/><rect class="bx" width="173" height="26"/><text class="nt" x="7" y="18">Following Others (10, 18)</text></g>
<g id="n-curiousity" transform="translate(2056,678)"><rect class="sh" x="4" y="4" width="111" height="26"/><rect class="bx" width="111" height="26"/><text class="nt" x="7" y="18">Curiousity (5, 6)</text></g>
<g id="n-satisfying-curiousity" transform="translate(1987,796)"><rect class="sh" x="4" y="4" width="179" height="26"/><rect class="bx" width="179" height="26"/><text class="nt" x="7" y="18">Satisfying Curiousity (6, 7)</text></g>
<g id="n-getting-news-loved-ones" transform="translate(1942,921)"><rect class="sh" x="4" y="4" width="221" height="45"/><rect class="bx" width="221" height="45"/><text class="nt" x="7" y="18">Getting News about Loved Ones<tspan x="7" dy="19">(5, 7)</tspan></text></g>
<g id="n-getting-information" transform="translate(1977,1090)"><rect class="sh" x="4" y="4" width="188" height="26"/><rect class="bx" width="188" height="26"/><text class="nt" x="7" y="18">Getting Information (11, 31)</text></g>
<g id="n-banning" transform="translate(14,1064)"><rect class="sh" x="4" y="4" width="198" height="43"/><rect class="bx" width="198" height="43"/><text class="nt" x="7" y="18">Banning-Excluding Unwanted<tspan x="7" dy="19">Users (2, 3)</tspan></text></g>
<g id="n-disturbing" transform="translate(38,1123)"><rect class="sh" x="4" y="4" width="131" height="26"/><rect class="bx" width="131" height="26"/><text class="nt" x="7" y="18">Disturbing (10, 21)</text></g>
<g id="n-being-exposed-polarising" transform="translate(24,1190)"><rect class="sh" x="4" y="4" width="193" height="44"/><rect class="bx" width="193" height="44"/><text class="nt" x="7" y="18">Being Exposed to Polarising<tspan x="7" dy="19">Posts (3, 5)</tspan></text></g>
<g id="n-friendship-requests" transform="translate(249,1180)"><rect class="sh" x="4" y="4" width="179" height="45"/><rect class="bx" width="179" height="45"/><text class="nt" x="7" y="18">Friendship Requests from<tspan x="7" dy="19">Unwanted Persons (6, 8)</tspan></text></g>
<g id="n-socially-disturbing" transform="translate(420,1246)"><rect class="sh" x="4" y="4" width="174" height="26"/><rect class="bx" width="174" height="26"/><text class="nt" x="7" y="18">Socially Disturbing (7, 14)</text></g>
<g id="n-unreality" transform="translate(48,1266)"><rect class="sh" x="4" y="4" width="107" height="26"/><rect class="bx" width="107" height="26"/><text class="nt" x="7" y="18">Unreality (5, 5)</text></g>
<g id="n-unnaturality" transform="translate(27,1333)"><rect class="sh" x="4" y="4" width="125" height="27"/><rect class="bx" width="125" height="27"/><text class="nt" x="7" y="18">Unnaturality (5, 7)</text></g>
<g id="n-existential-concerns" transform="translate(400,1339)"><rect class="sh" x="4" y="4" width="186" height="26"/><rect class="bx" width="186" height="26"/><text class="nt" x="7" y="18">Existential Concerns (5, 14)</text></g>
<g id="n-not-face-to-face" transform="translate(25,1388)"><rect class="sh" x="4" y="4" width="153" height="25"/><rect class="bx" width="153" height="25"/><text class="nt" x="7" y="18">Not Face to Face (2, 2)</text></g>
<g id="n-passing-time" transform="translate(45,1455)"><rect class="sh" x="4" y="4" width="131" height="26"/><rect class="bx" width="131" height="26"/><text class="nt" x="7" y="18">Passing Time (2, 3)</text></g>
<g id="n-having-fun" transform="translate(45,1508)"><rect class="sh" x="4" y="4" width="117" height="26"/><rect class="bx" width="117" height="26"/><text class="nt" x="7" y="18">Having Fun (4, 7)</text></g>
<g id="n-playing-game" transform="translate(43,1565)"><rect class="sh" x="4" y="4" width="135" height="26"/><rect class="bx" width="135" height="26"/><text class="nt" x="7" y="18">Playing Game (2, 2)</text></g>
<g id="n-recreation" transform="translate(535,1505)"><rect class="sh" x="4" y="4" width="126" height="27"/><rect class="bx" width="126" height="27"/><text class="nt" x="7" y="18">Recreation (5, 12)</text></g>
<g id="n-updating-facebook-status" transform="translate(647,1229)"><rect class="sh" x="4" y="4" width="215" height="27"/><rect class="bx" width="215" height="27"/><text class="nt" x="7" y="18">Updating Facebook Status (2, 2)</text></g>
<g id="n-dialog" transform="translate(754,1385)"><rect class="sh" x="4" y="4" width="106" height="26"/><rect class="bx" width="106" height="26"/><text class="nt" x="7" y="18">Dialog (12, 30)</text></g>
<g id="n-listening-music" transform="translate(945,1350)"><rect class="sh" x="4" y="4" width="211" height="26"/><rect class="bx" width="211" height="26"/><text class="nt" x="7" y="18">Listening to Posted Music (1, 1)</text></g>
<g id="n-chat" transform="translate(1053,1479)"><rect class="sh" x="4" y="4" width="78" height="26"/><rect class="bx" width="78" height="26"/><text class="nt" x="7" y="18">Chat (6, 8)</text></g>
<g id="n-communicating-with-others" transform="translate(842,1538)"><rect class="sh" x="4" y="4" width="216" height="44"/><rect class="bx" width="216" height="44"/><text class="nt" x="7" y="18">Communicating with Others (12,<tspan x="7" dy="19">22)</tspan></text></g>
<g id="n-watching-videos" transform="translate(1066,1406)"><rect class="sh" x="4" y="4" width="206" height="27"/><rect class="bx" width="206" height="27"/><text class="nt" x="7" y="18">Watching Posted Videos (6, 9)</text></g>
<g id="n-looking-at-photos" transform="translate(1519,1173)"><rect class="sh" x="4" y="4" width="184" height="26"/><rect class="bx" width="184" height="26"/><text class="nt" x="7" y="18">Looking at Photos (10, 14)</text></g>
<g id="n-reading-posts" transform="translate(1433,1227)"><rect class="sh" x="4" y="4" width="193" height="26"/><rect class="bx" width="193" height="26"/><text class="nt" x="7" y="18">Reading Posts on Wall (5, 7)</text></g>
<g id="n-getting-news" transform="translate(1550,1267)"><rect class="sh" x="4" y="4" width="135" height="26"/><rect class="bx" width="135" height="26"/><text class="nt" x="7" y="18">Getting News (6, 7)</text></g>
<g id="n-reading-status" transform="translate(1327,1302)"><rect class="sh" x="4" y="4" width="212" height="27"/><rect class="bx" width="212" height="27"/><text class="nt" x="7" y="18">Reading Facebook Status (5, 8)</text></g>
<g id="n-reading-comments" transform="translate(1224,1339)"><rect class="sh" x="4" y="4" width="183" height="27"/><rect class="bx" width="183" height="27"/><text class="nt" x="7" y="18">Reading Comments (7, 10)</text></g>
<g id="n-mobile-use" transform="translate(1158,1456)"><rect class="sh" x="4" y="4" width="155" height="25"/><rect class="bx" width="155" height="25"/><text class="nt" x="7" y="18">Mobile Use of FB (1, 2)</text></g>
<g id="n-usability" transform="translate(1164,1517)"><rect class="sh" x="4" y="4" width="111" height="25"/><rect class="bx" width="111" height="25"/><text class="nt" x="7" y="18">Usability (8, 20)</text></g>
<g id="n-privacy-settings" transform="translate(1229,1555)"><rect class="sh" x="4" y="4" width="194" height="26"/><rect class="bx" width="194" height="26"/><text class="nt" x="7" y="18">Privacy Settings of FB (7, 11)</text></g>
<g id="n-security-settings" transform="translate(1494,1558)"><rect class="sh" x="4" y="4" width="190" height="27"/><rect class="bx" width="190" height="27"/><text class="nt" x="7" y="18">Security Settings of FB (6, 9)</text></g>
<g id="n-functionality" transform="translate(1577,1414)"><rect class="sh" x="4" y="4" width="147" height="25"/><rect class="bx" width="147" height="25"/><text class="nt" x="7" y="18">Functionality (13, 55)</text></g>
<g id="n-learning-via-fb" transform="translate(1818,1267)"><rect class="sh" x="4" y="4" width="147" height="26"/><rect class="bx" width="147" height="26"/><text class="nt" x="7" y="18">Learning via FB (3, 4)</text></g>
<g id="n-fb-search-engine" transform="translate(1695,1306)"><rect class="sh" x="4" y="4" width="159" height="26"/><rect class="bx" width="159" height="26"/><text class="nt" x="7" y="18">FB Search Engine (2, 2)</text></g>
<g id="n-finding-information" transform="translate(1985,1247)"><rect class="sh" x="4" y="4" width="182" height="26"/><rect class="bx" width="182" height="26"/><text class="nt" x="7" y="18">Finding Information (7, 11)</text></g>
<g id="n-feature-modifications" transform="translate(1973,1360)"><rect class="sh" x="4" y="4" width="190" height="25"/><rect class="bx" width="190" height="25"/><text class="nt" x="7" y="18">Feature Modifications (2, 2)</text></g>
<g id="n-old-account" transform="translate(2039,1432)"><rect class="sh" x="4" y="4" width="126" height="26"/><rect class="bx" width="126" height="26"/><text class="nt" x="7" y="18">Old Account (1, 1)</text></g>
<g id="n-fb-getting-better" transform="translate(1720,1541)"><rect class="sh" x="4" y="4" width="169" height="27"/><rect class="bx" width="169" height="27"/><text class="nt" x="7" y="18">FB is Getting Better (3, 4)</text></g>
<g id="n-fb-better-than-others" transform="translate(1976,1541)"><rect class="sh" x="4" y="4" width="195" height="27"/><rect class="bx" width="195" height="27"/><text class="nt" x="7" y="18">FB is Better than Others (5, 6)</text></g>
</g>
</svg>
